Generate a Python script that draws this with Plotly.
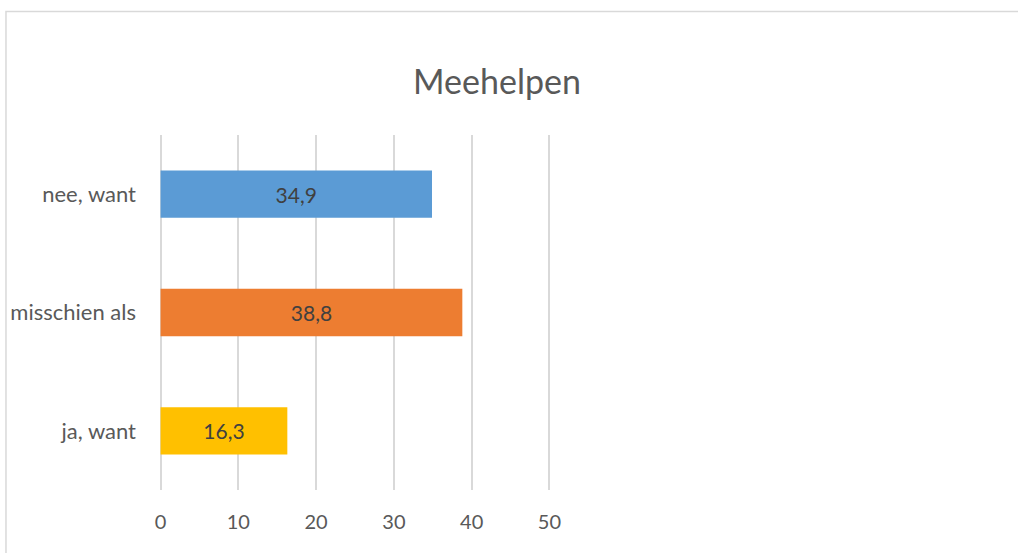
import plotly.graph_objects as go

categories = ["ja, want", "misschien als", "nee, want"]
values = [16.3, 38.8, 34.9]
labels = ["16,3", "38,8", "34,9"]
colors = ["#FFC000", "#ED7D31", "#5B9BD5"]
tick_vals = [0, 10, 20, 30, 40, 50]

W, H = 1018, 553
PAD = 0.2
x0_px, x50_px = 161.0, 549.7
upx = (x50_px - x0_px) / 50
ml = x0_px - PAD * upx
pw = (50 + 2 * PAD) * upx
mr = W - ml - pw
mt, mb = 135, 63
ph = H - mt - mb
FONT = "Lato, Open Sans, Liberation Sans, sans-serif"

def px2paper_x(px):
    return (px - ml) / pw

def px2paper_y(py):
    return (H - mb - py) / ph

fig = go.Figure(go.Bar(
    y=categories, x=values, orientation="h",
    marker=dict(color=colors, line=dict(width=0)),
    text=labels, textposition="inside", insidetextanchor="middle",
    textfont=dict(family=FONT, size=21, color="#404040"),
    width=0.4, cliponaxis=False,
))

fig.update_layout(
    width=W, height=H,
    margin=dict(l=ml, r=mr, t=mt, b=mb, autoexpand=False),
    paper_bgcolor="white", plot_bgcolor="white",
    title=dict(text="Meehelpen", x=497 / W, xanchor="center",
               y=1 - 82 / H, yanchor="middle", xref="container", yref="container",
               font=dict(family=FONT, size=34, color="#595959")),
    showlegend=False,
    xaxis=dict(range=[-PAD, 50 + PAD], tickvals=tick_vals, showgrid=True, gridcolor="#D9D9D9", gridwidth=1.5,
               zeroline=False, showline=False, ticks="",
               tickfont=dict(family=FONT, size=20, color="#595959"),
               ticklabelstandoff=18),
    yaxis=dict(range=[-0.5, 2.5], showgrid=False, zeroline=False, showline=False, ticks="",
               tickfont=dict(family=FONT, size=22, color="#595959"),
               ticklabelstandoff=22),
    shapes=[dict(type="rect", xref="paper", yref="paper",
                 x0=px2paper_x(6.5), x1=px2paper_x(1040), y0=px2paper_y(580), y1=px2paper_y(11.5),
                 line=dict(color="#D9D9D9", width=1.5), fillcolor="rgba(0,0,0,0)", layer="below")],
)

fig.write_html("out.html", config={"displayModeBar": False},
               post_script="document.body.style.margin='0';document.body.style.overflow='hidden';")
